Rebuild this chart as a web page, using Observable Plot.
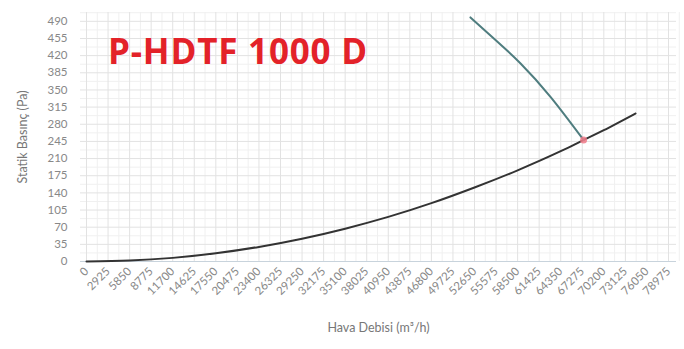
<!DOCTYPE html>
<html>
<head>
<meta charset="utf-8">
<script src="https://cdn.jsdelivr.net/npm/d3@7"></script>
<script src="https://cdn.jsdelivr.net/npm/@observablehq/plot@0.6"></script>
<style>
  html, body { margin: 0; padding: 0; background: #fff; }
  #wrap { position: relative; width: 684px; height: 349px; }
  #title { position: absolute; left: 108px; top: 33px; font-family: "Open Sans", sans-serif; font-weight: 700; font-size: 35px; color: #e32229; line-height: 1; letter-spacing: 0.8px; white-space: nowrap; }
  g[aria-label="x-axis label"] text, g[aria-label="y-axis label"] text { font-size: 12.5px; fill: #777; }
</style>
</head>
<body>
<div id="wrap"><div id="chart"></div><div id="title"></div></div>
<script>
const titleText = "P-HDTF 1000 D";
const xLabel = "Hava Debisi (m³/h)";
const yLabel = "Statik Basınç (Pa)";
const xTicks = [0, 2925, 5850, 8775, 11700, 14625, 17550, 20475, 23400, 26325, 29250, 32175, 35100, 38025, 40950, 43875, 46800, 49725, 52650, 55575, 58500, 61425, 64350, 67275, 70200, 73125, 76050, 78975];
const yTicks = [0, 35, 70, 105, 140, 175, 210, 245, 280, 315, 350, 385, 420, 455, 490];

// system curve (flow, pressure)
const sysFlow = [0, 5850, 11700, 17550, 23400, 29250, 35100, 40950, 46800, 52650, 58500, 64350, 67450, 70200, 74500];
const sysPres = [0, 1.9, 7.4, 16.8, 29.8, 46.5, 67, 91, 119, 151, 186, 225, 248, 268, 302];

// fan curve (flow, pressure)
const fanFlow = [52100, 55500, 58900, 62960, 67450];
const fanPres = [498, 452, 404, 336, 248];

// operating point
const opFlow = [67450];
const opPres = [248];

document.getElementById("title").textContent = titleText;

const sys = sysFlow.map((x, i) => ({x, y: sysPres[i]}));
const fan = fanFlow.map((x, i) => ({x, y: fanPres[i]}));
const op = opFlow.map((x, i) => ({x, y: opPres[i]}));

const xMinor = xTicks.slice(0, -1).map((t, i) => (t + xTicks[i + 1]) / 2).concat([78975 + 1462.5]);
const yMinor = yTicks.map(t => t + 17.5);

const chart = Plot.plot({
  width: 684,
  height: 349,
  marginLeft: 80,
  marginRight: 8,
  marginTop: 12,
  marginBottom: 88,
  style: {fontFamily: "Lato, 'Open Sans', sans-serif", fontSize: "11.5px", color: "#888", background: "#fff"},
  x: {domain: [-814, 80060], ticks: xTicks, tickFormat: d => String(d), tickRotate: -45, tickSize: 0, tickPadding: 8,
      label: xLabel, labelAnchor: "center", labelArrow: "none", labelOffset: 70},
  y: {domain: [0, 508], ticks: yTicks, tickFormat: d => String(d), tickSize: 0, tickPadding: 13,
      label: yLabel, labelAnchor: "center", labelArrow: "none", labelOffset: 62},
  marks: [
    Plot.ruleX(xMinor, {stroke: "#f0f0f0", strokeWidth: 1}),
    Plot.ruleY(yMinor, {stroke: "#f0f0f0", strokeWidth: 1}),
    Plot.ruleX(xTicks, {stroke: "#e2e2e2", strokeWidth: 1}),
    Plot.ruleY(yTicks, {stroke: "#e2e2e2", strokeWidth: 1}),
    Plot.ruleY([0], {stroke: "#c8d3dc", strokeWidth: 1}),
    Plot.line(sys, {x: "x", y: "y", curve: "natural", stroke: "#333", strokeWidth: 2}),
    Plot.line(fan, {x: "x", y: "y", curve: "natural", stroke: "#4f7d7f", strokeWidth: 2}),
    Plot.dot(op, {x: "x", y: "y", r: 3.5, fill: "#f07a88", stroke: "none", fillOpacity: 0.85})
  ]
});
document.getElementById("chart").appendChild(chart);
</script>
</body>
</html>
